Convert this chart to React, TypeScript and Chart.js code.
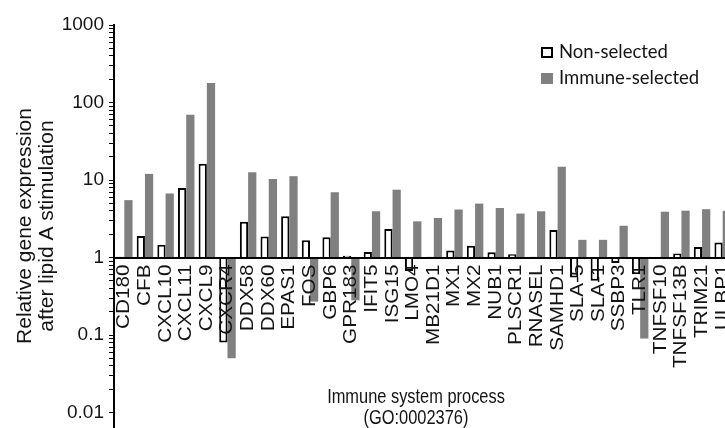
import React, { useEffect, useRef } from "react";
import { Chart, registerables } from "chart.js";

Chart.register(...registerables);

const categories = [
  "CD180", "CFB", "CXCL10", "CXCL11", "CXCL9", "CXCR4", "DDX58", "DDX60", "EPAS1", "FOS",
  "GBP6", "GPR183", "IFIT5", "ISG15", "LMO4", "MB21D1", "MX1", "MX2", "NUB1", "PLSCR1",
  "RNASEL", "SAMHD1", "SLA-5", "SLA-1", "SSBP3", "TLR1", "TNFSF10", "TNFSF13B", "TRIM21", "ULBP1",
];

const nonSelected = [
  1.02, 1.9, 1.46, 7.9, 16.2, 0.08, 2.9, 1.87, 3.4, 1.67,
  1.82, 1.05, 1.18, 2.33, 0.67, 1.02, 1.23, 1.42, 1.17, 1.1,
  1.02, 2.26, 0.55, 0.5, 0.85, 0.61, 0.97, 1.13, 1.37, 1.56,
];

const immuneSelected = [
  5.5, 12.0, 6.7, 69.7, 179, 0.05, 12.6, 10.3, 11.2, 0.27,
  6.95, 0.28, 3.95, 7.5, 2.93, 3.24, 4.16, 4.96, 4.35, 3.69,
  3.95, 14.8, 1.69, 1.69, 2.57, 0.09, 3.9, 4.02, 4.2, 4.0,
];

const seriesNames = ["Non-selected", "Immune-selected"];
const yDecadeTicks = [0.01, 0.1, 1, 10, 100, 1000];
const yAxisTitle = ["Relative gene expression", "after lipid A stimulation"];
const xAxisTitle = ["Immune system process", "(GO:0002376)"];

const FONT = '"Liberation Sans", Arial, Helvetica, sans-serif';
const TEXT = "#141414";

function isDecade(v: number) {
  const l = Math.log10(v);
  return Math.abs(l - Math.round(l)) < 1e-9;
}

function buildYTicks() {
  const out: number[] = [];
  for (let i = 0; i < yDecadeTicks.length - 1; i++) {
    const d = yDecadeTicks[i];
    for (let m = 1; m <= 9; m++) out.push(d * m);
  }
  out.push(yDecadeTicks[yDecadeTicks.length - 1]);
  return out;
}

const overlayPlugin = {
  id: "overlay",
  afterDraw(chart: any) {
    const ctx = chart.ctx as CanvasRenderingContext2D;
    const area = chart.chartArea;
    const xs = chart.scales.x;
    const ys = chart.scales.y;
    ctx.save();
    ctx.fillStyle = TEXT;

    // category labels (rotated, slightly elongated like the reference)
    const axisY = ys.getPixelForValue(1);
    ctx.font = `18px ${FONT}`;
    ctx.textAlign = "right";
    ctx.textBaseline = "middle";
    categories.forEach((lab, i) => {
      const x = xs.getPixelForTick(i);
      ctx.save();
      ctx.translate(x, axisY + 7);
      ctx.rotate(-Math.PI / 2);
      ctx.scale(1.15, 1);
      ctx.fillText(lab, 0, 0);
      ctx.restore();
    });

    // y-axis title
    const cy = (area.top + area.bottom) / 2;
    ctx.font = `21px ${FONT}`;
    ctx.textAlign = "center";
    ctx.textBaseline = "middle";
    yAxisTitle.forEach((line, i) => {
      ctx.save();
      ctx.translate(25 + i * 22, cy);
      ctx.rotate(-Math.PI / 2);
      ctx.fillText(line, 0, 0);
      ctx.restore();
    });

    // x-axis title (condensed)
    ctx.font = `20px ${FONT}`;
    xAxisTitle.forEach((line, i) => {
      ctx.save();
      ctx.translate(416, 397 + i * 21);
      ctx.scale(0.82, 1);
      ctx.fillText(line, 0, 0);
      ctx.restore();
    });

    // legend
    const lx = 541;
    const ly = 47;
    chart.data.datasets.forEach((ds: any, i: number) => {
      const y = ly + i * 26;
      ctx.fillStyle = ds.backgroundColor;
      ctx.fillRect(lx, y, 12, 11);
      if (ds.borderWidth) {
        ctx.lineWidth = 2;
        ctx.strokeStyle = ds.borderColor;
        ctx.strokeRect(lx + 1, y + 1, 10, 9);
      }
      ctx.fillStyle = TEXT;
      ctx.textAlign = "left";
      ctx.textBaseline = "middle";
      ctx.font = '18.5px Lato, "Open Sans", sans-serif';
      ctx.fillText(ds.label, lx + 18, y + 5.5);
    });
    ctx.restore();
  },
};

export default function App() {
  const ref = useRef<HTMLCanvasElement | null>(null);

  useEffect(() => {
    if (!ref.current) return;
    const yTicks = buildYTicks();
    const chart = new Chart(ref.current, {
      type: "bar",
      data: {
        labels: categories,
        datasets: [
          {
            label: seriesNames[0],
            data: nonSelected,
            base: 1,
            backgroundColor: "#ffffff",
            borderColor: "#000000",
            borderWidth: 2,
            categoryPercentage: 0.8,
            barPercentage: 1.0,
          } as any,
          {
            label: seriesNames[1],
            data: immuneSelected,
            base: 1,
            backgroundColor: "#808080",
            borderWidth: 0,
            categoryPercentage: 0.8,
            barPercentage: 1.0,
          } as any,
        ],
      },
      options: {
        responsive: false,
        animation: false,
        layout: { padding: { left: 0, top: 25, right: 7, bottom: 1 } },
        plugins: {
          legend: { display: false },
          tooltip: { enabled: false },
        },
        scales: {
          x: {
            type: "category",
            position: { y: 1 } as any,
            offset: true,
            grid: { display: false, drawTicks: false },
            border: { display: true, color: "#000", width: 2, z: 1 },
            ticks: { display: false },
          },
          y: {
            type: "logarithmic",
            min: 0.0065,
            max: 1000,
            afterBuildTicks: (scale: any) => {
              scale.ticks = yTicks.map((v) => ({ value: v, major: isDecade(v) }));
            },
            afterFit: (scale: any) => {
              scale.width = 114;
              scale.paddingTop = 0;
              scale.paddingBottom = 0;
            },
            grid: {
              display: true,
              drawOnChartArea: false,
              drawTicks: true,
              tickLength: 5,
              tickColor: "#000",
              tickWidth: 1,
            },
            border: { display: true, color: "#000", width: 2 },
            ticks: {
              autoSkip: false,
              padding: 5,
              color: TEXT,
              font: { size: 19, family: FONT },
              callback: (v: any) => (isDecade(Number(v)) ? String(Number(v)) : ""),
            },
          },
        },
      },
      plugins: [overlayPlugin],
    });
    return () => chart.destroy();
  }, []);

  return (
    <div
      style={{
        position: "absolute",
        left: 0,
        top: 0,
        width: 725,
        height: 428,
        overflow: "hidden",
        background: "#fff",
      }}
    >
      <canvas ref={ref} width={740} height={428} style={{ display: "block" }} />
    </div>
  );
}
